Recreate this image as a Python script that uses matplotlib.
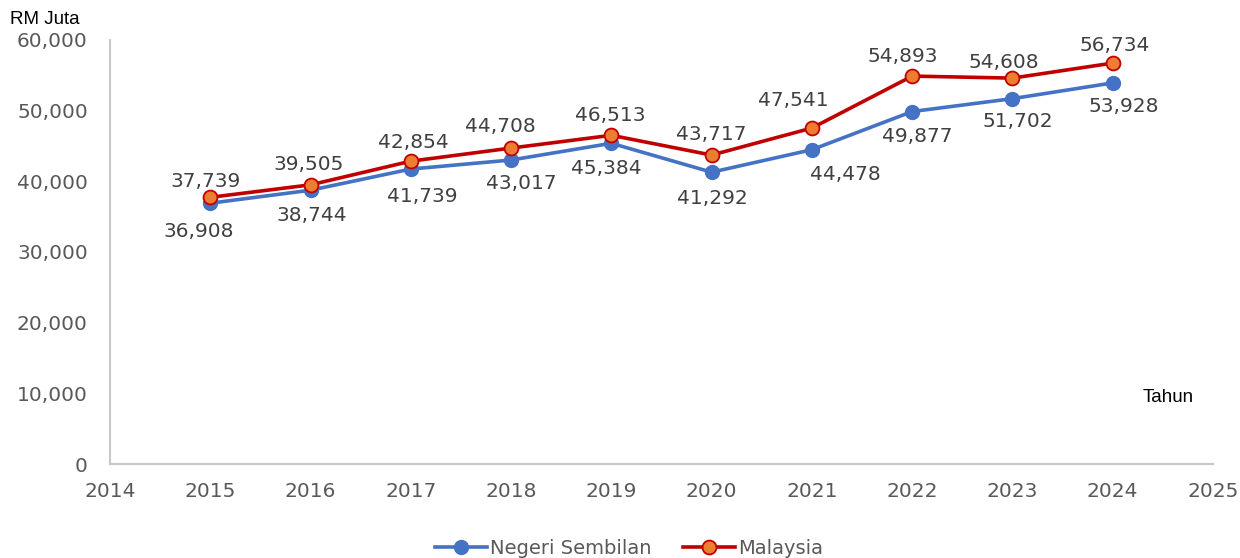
import matplotlib
matplotlib.use("Agg")
import matplotlib.pyplot as plt
from matplotlib.ticker import FuncFormatter

# data
years = [2015, 2016, 2017, 2018, 2019, 2020, 2021, 2022, 2023, 2024]
negeri_sembilan = [36908, 38744, 41739, 43017, 45384, 41292, 44478, 49877, 51702, 53928]
malaysia = [37739, 39505, 42854, 44708, 46513, 43717, 47541, 54893, 54608, 56734]

# label offsets in pixels (dx, dy) as placed in the original
ns_off = [(-12, -28), (1, -25), (11, -27), (10, -23), (-5, -25), (1, -26), (33, -25), (5, -25), (5, -23), (11, -24)]
my_off = [(-5, 16), (-2, 20), (3, 19), (-11, 22), (-1, 20), (0, 21), (-19, 28), (-9, 20), (-9, 16), (2, 18)]

grey = "#595959"
plt.rcParams["font.family"] = ["DejaVu Sans"]

fig = plt.figure(figsize=(12.4, 5.58), dpi=100)
ax = fig.add_axes([110 / 1240, 1 - 464 / 558, (1213 - 110) / 1240, (464 - 40) / 558])

ax.plot(years, negeri_sembilan, color="#4472C4", lw=2.6, marker="o", ms=10,
        mfc="#4472C4", mec="#4472C4", label="Negeri Sembilan", zorder=3)
ax.plot(years, malaysia, color="#C00000", lw=2.6, marker="o", ms=10,
        mfc="#ED7D31", mec="#C00000", mew=1.3, label="Malaysia", zorder=4)

px = 0.72  # points per pixel at dpi 100
for x, v, (dx, dy) in zip(years, negeri_sembilan, ns_off):
    ax.annotate(f"{v:,}", (x, v), xytext=(dx * px, dy * px), textcoords="offset points",
                ha="center", va="center", fontsize=14.5, color="#404040")
for x, v, (dx, dy) in zip(years, malaysia, my_off):
    ax.annotate(f"{v:,}", (x, v), xytext=(dx * px, dy * px), textcoords="offset points",
                ha="center", va="center", fontsize=14.5, color="#404040")

ax.set_xlim(2014, 2025)
ax.set_ylim(0, 60000)
ax.set_xticks(range(2014, 2026))
ax.set_yticks(range(0, 60001, 10000))
ax.yaxis.set_major_formatter(FuncFormatter(lambda v, p: f"{int(v):,}"))
ax.tick_params(axis="both", length=0, labelsize=14.5, colors=grey)
ax.tick_params(axis="y", pad=16)
ax.tick_params(axis="x", pad=13)
for s in ["top", "right"]:
    ax.spines[s].set_visible(False)
for s in ["left", "bottom"]:
    ax.spines[s].set_color("#C8C8C8")
    ax.spines[s].set_linewidth(1.5)

fig.text(10 / 1240, 1 - 19 / 558, "RM Juta", fontsize=13.5, color="black", va="center",
         family="Liberation Sans")
fig.text(1168 / 1240, 1 - 397 / 558, "Tahun", fontsize=13.5, color="black", va="center",
         ha="center", family="Liberation Sans")

fig.legend(loc="center", bbox_to_anchor=(629 / 1240, 1 - 548 / 558), ncol=2, frameon=False,
           fontsize=14, labelcolor=grey, handlelength=2.7, columnspacing=1.6,
           handletextpad=0.15)

fig.savefig("out.png", dpi=100)
